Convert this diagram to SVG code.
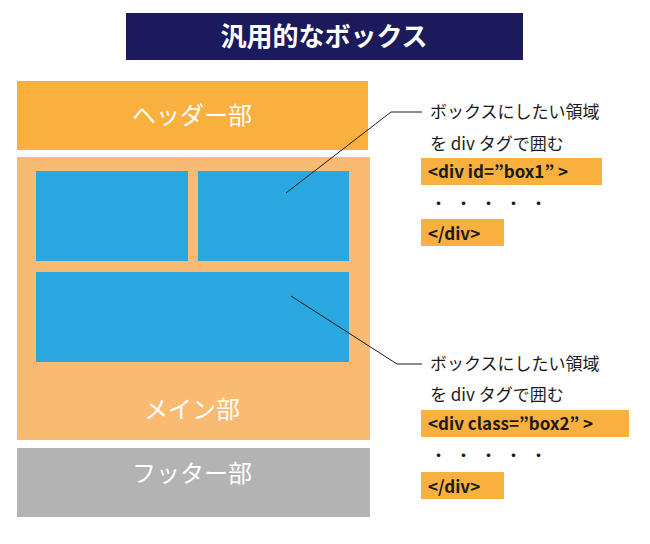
<svg xmlns="http://www.w3.org/2000/svg" width="650" height="544" viewBox="0 0 650 544">
<style>
text{font-family:"Noto Sans CJK JP","Noto Sans",sans-serif}
.sec{fill:#fff;font-size:24px;text-anchor:middle}
.note{fill:#1a1a1a;font-size:17px}
.code{fill:#1a1a1a;font-size:17px;font-weight:bold}
.cb{fill:#f9b03f}
.box{fill:#29a8e0}
.ln{fill:none;stroke:#1a1a1a;stroke-width:1}
</style>
<rect width="650" height="544" fill="#fff"/>
<g id="title"><rect x="126" y="13" width="397" height="47" fill="#1b1a5c"/><text x="324" y="46" fill="#fff" font-size="26" font-weight="bold" text-anchor="middle">汎用的なボックス</text></g>
<g id="header"><rect x="17" y="81" width="351" height="69" fill="#f9b03f"/><text class="sec" x="192" y="124">ヘッダー部</text></g>
<g id="main"><rect x="17" y="157" width="353" height="283" fill="#f9bb72"/><text class="sec" x="192" y="418">メイン部</text></g>
<g id="box1"><rect class="box" x="36" y="171" width="152" height="90"/></g>
<g id="box1b"><rect class="box" x="198" y="171" width="151" height="90"/></g>
<g id="box2"><rect class="box" x="36" y="272" width="313" height="90"/></g>
<g id="footer"><rect x="17" y="448" width="353" height="69" fill="#b3b3b3"/><text class="sec" x="192" y="482">フッター部</text></g>
<g id="connectors"><polyline class="ln" points="286,193 391,112 422,112"/><polyline class="ln" points="291,296 397,364 422,364"/></g>
<g id="note1">
<text class="note" x="430" y="118">ボックスにしたい領域</text>
<text class="note" x="430" y="150">を div タグで囲む</text>
<rect class="cb" x="421" y="158" width="181" height="27"/>
<text class="code" x="428" y="178">&lt;div id=”box1” &gt;</text>
<text class="note" x="430" y="210" letter-spacing="8">・・・・・</text>
<rect class="cb" x="421" y="219" width="83" height="27"/>
<text class="code" x="428" y="240">&lt;/div&gt;</text>
</g>
<g id="note2">
<text class="note" x="430" y="370">ボックスにしたい領域</text>
<text class="note" x="430" y="401">を div タグで囲む</text>
<rect class="cb" x="421" y="410" width="208" height="27"/>
<text class="code" x="428" y="430">&lt;div class=”box2” &gt;</text>
<text class="note" x="430" y="462" letter-spacing="8">・・・・・</text>
<rect class="cb" x="421" y="472" width="83" height="27"/>
<text class="code" x="428" y="493">&lt;/div&gt;</text>
</g>
</svg>
